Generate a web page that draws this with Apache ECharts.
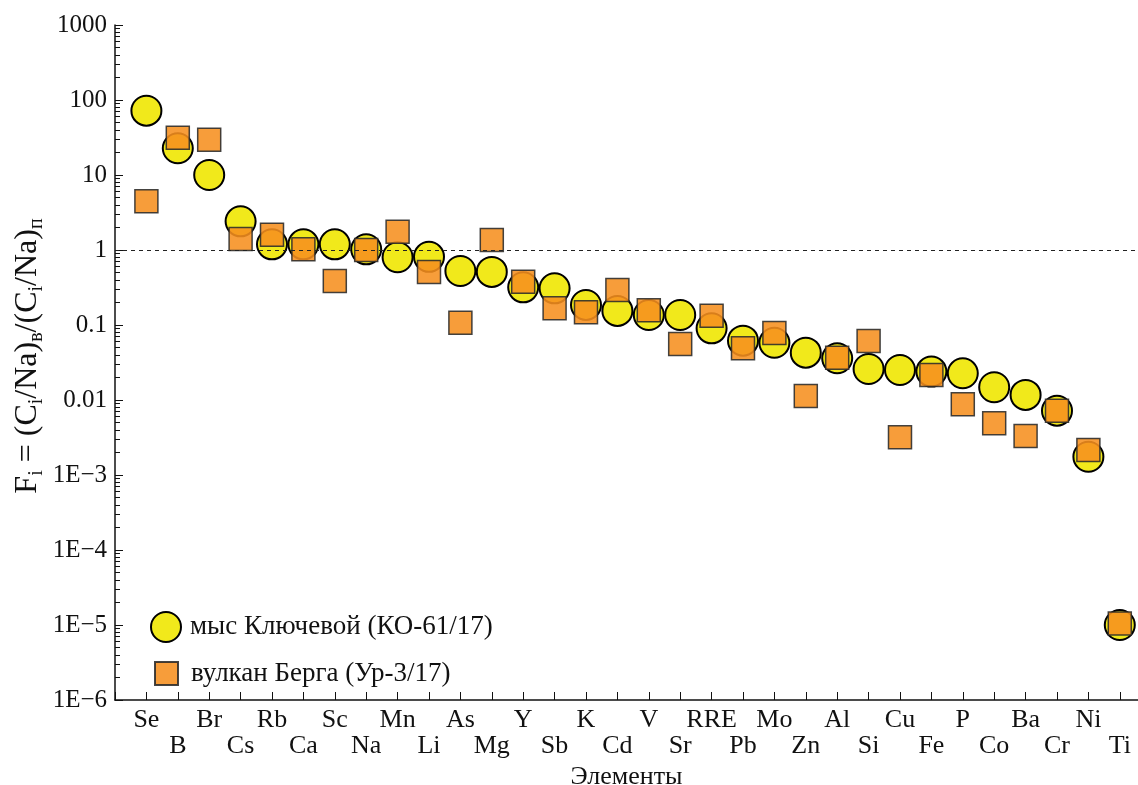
<!DOCTYPE html>
<html>
<head>
<meta charset="utf-8">
<script src="https://cdn.jsdelivr.net/npm/echarts@6/dist/echarts.min.js"></script>
<style>
  html, body { margin: 0; padding: 0; background: #fff; }
  #chart { width: 1138px; height: 785px; }
</style>
</head>
<body>
<div id="chart"></div>
<script>
// Elements, in order along the x axis
const elements = ['Se','B','Br','Cs','Rb','Ca','Sc','Na','Mn','Li','As','Mg','Y','Sb','K','Cd',
                  'V','Sr','RRE','Pb','Mo','Zn','Al','Si','Cu','Fe','P','Co','Ba','Cr','Ni','Ti'];

// Enrichment factors F_i, cape Klyuchevoy sample (KO-61/17)
const klyuchevoy = [72, 22.7, 10, 2.41, 1.19, 1.19, 1.19, 1.02, 0.80, 0.81, 0.525, 0.51,
                    0.318, 0.308, 0.185, 0.154, 0.136, 0.136, 0.0903, 0.0618, 0.058, 0.0428,
                    0.036, 0.0259, 0.0251, 0.0239, 0.0227, 0.0148, 0.0117, 0.0072, 0.00175, 1.0e-5];

// Enrichment factors F_i, Berg volcano sample (Ур-3/17)
const berga = [4.46, 31.4, 29.6, 1.40, 1.6, 1.02, 0.386, 1.0, 1.75, 0.51, 0.107, 1.36,
               0.378, 0.167, 0.148, 0.293, 0.157, 0.0558, 0.133, 0.0489, 0.078, 0.0113,
               0.0367, 0.0612, 0.00318, 0.0216, 0.00875, 0.00489, 0.0033, 0.0072, 0.00216, 1.05e-5];

const seriesNames = ['мыс Ключевой (КО-61/17)', 'вулкан Берга (Ур-3/17)'];

// Log-axis range and the minor ticks (2..9 in every decade)
const yMin = 1e-6, yMax = 1000;
const minorTicks = [];
for (let e = -6; e < 3; e++) {
  for (let m = 2; m <= 9; m++) minorTicks.push(m * Math.pow(10, e));
}

const FONT = 'Liberation Serif';

function yLabel(v) {
  const e = Math.round(Math.log10(v));
  if (e >= 0) return String(Math.pow(10, e));
  if (e >= -2) return Math.pow(10, e).toFixed(-e);
  return '1E\u2212' + (-e);
}

const chart = echarts.init(document.getElementById('chart'), null, { renderer: 'canvas' });

chart.setOption({
  animation: false,
  backgroundColor: '#fff',
  grid: { left: 115, right: 0, top: 25, bottom: 85, containLabel: false, outerBoundsMode: 'none' },
  xAxis: {
    type: 'value',
    min: 0,
    max: 32.58,
    interval: 1,
    name: 'Элементы',
    nameLocation: 'middle',
    nameGap: 62,
    nameTextStyle: { fontFamily: FONT, fontSize: 26, color: '#111' },
    splitLine: { show: false },
    axisLine: { show: true, onZero: false, lineStyle: { color: '#111', width: 1.5 } },
    axisTick: { show: true, inside: true, length: 8, lineStyle: { color: '#111', width: 1 } },
    axisLabel: {
      fontFamily: FONT, fontSize: 26, color: '#111', margin: 7, lineHeight: 26,
      showMinLabel: true, showMaxLabel: true,
      formatter: function (v) {
        const i = Math.round(v);
        if (i < 1 || i > elements.length || Math.abs(v - i) > 1e-6) return '';
        return (i % 2 === 1) ? elements[i - 1] : '\n' + elements[i - 1];
      }
    }
  },
  yAxis: [
    {
      type: 'log',
      logBase: 10,
      min: yMin,
      max: yMax,
      splitLine: { show: false },
      axisLine: { show: true, lineStyle: { color: '#111', width: 1.5 } },
      axisTick: { show: true, inside: true, length: 8, lineStyle: { color: '#111', width: 1 } },
      axisLabel: {
        fontFamily: FONT, fontSize: 25, color: '#111', margin: 8,
        formatter: yLabel
      }
    },
    {
      type: 'log',
      logBase: 10,
      min: yMin,
      max: yMax,
      position: 'left',
      splitLine: { show: false },
      axisLine: { show: false },
      axisLabel: { show: false },
      axisTick: {
        show: true, inside: true, length: 5,
        customValues: minorTicks,
        lineStyle: { color: '#111', width: 1 }
      }
    }
  ],
  legend: [
    {
      data: [seriesNames[0]],
      orient: 'vertical',
      left: 150, top: 611, padding: 0,
      icon: 'circle',
      itemWidth: 30, itemHeight: 30,
      textStyle: { fontFamily: FONT, fontSize: 27, color: '#111', padding: [0, 0, 0, 4] }
    },
    {
      data: [seriesNames[1]],
      orient: 'vertical',
      left: 154, top: 660, padding: 0,
      icon: 'rect',
      itemWidth: 23, itemHeight: 23,
      textStyle: { fontFamily: FONT, fontSize: 27, color: '#111', padding: [0, 0, 0, 8] }
    }
  ],
  graphic: [
    {
      type: 'text',
      x: 28, y: 356,
      rotation: Math.PI / 2,
      style: {
        text: '{n|F}{s|i}{n| = (C}{s|i}{n|/Na)}{s|в}{n|/(C}{s|i}{n|/Na)}{s|п}',
        align: 'center',
        verticalAlign: 'middle',
        fill: '#111',
        rich: {
          n: { fontFamily: FONT, fontSize: 32, lineHeight: 38, verticalAlign: 'middle', fill: '#111' },
          s: { fontFamily: FONT, fontSize: 20, lineHeight: 18, verticalAlign: 'bottom', fill: '#111' }
        }
      }
    }
  ],
  series: [
    {
      name: seriesNames[0],
      type: 'scatter',
      yAxisIndex: 0,
      symbol: 'circle',
      symbolSize: 30,
      itemStyle: { color: '#f1e91b', borderColor: '#000', borderWidth: 2, opacity: 1 },
      data: klyuchevoy.map((v, i) => [i + 1, v]),
      markLine: {
        silent: true,
        symbol: 'none',
        label: { show: false },
        lineStyle: { type: [4, 4], color: '#222', width: 1 },
        data: [{ yAxis: 1 }]
      },
      z: 2
    },
    {
      name: seriesNames[1],
      type: 'scatter',
      yAxisIndex: 0,
      symbol: 'rect',
      symbolSize: 23,
      itemStyle: { color: '#f6901f', borderColor: '#2a2a2a', borderWidth: 1.5, opacity: 0.88 },
      data: berga.map((v, i) => [i + 1, v]),
      z: 3
    }
  ]
});
</script>
</body>
</html>
